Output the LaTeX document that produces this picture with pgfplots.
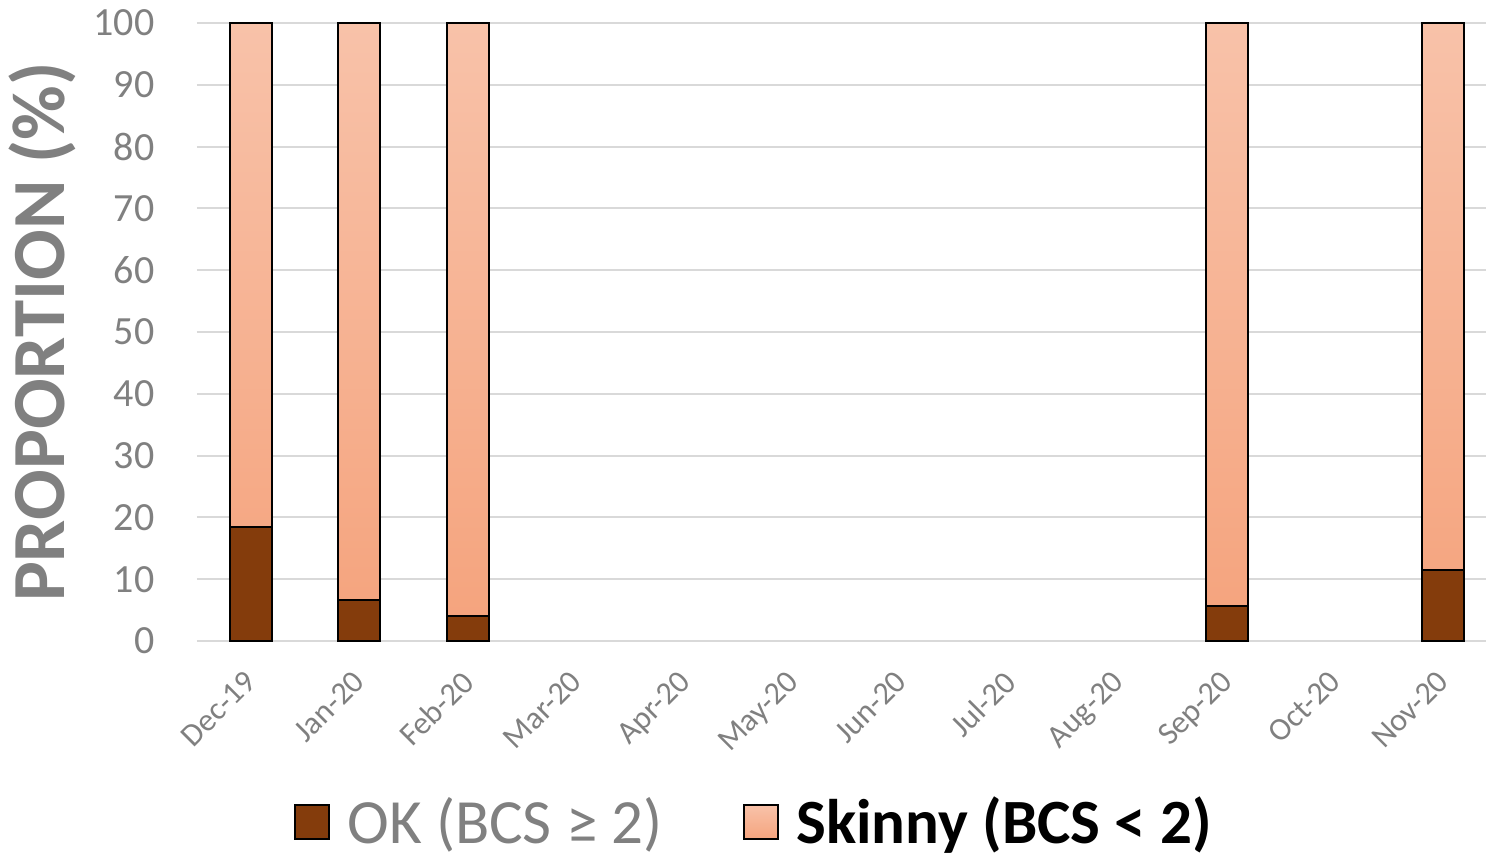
\documentclass[border=0pt]{standalone}
\usepackage{pgfplots}
\pgfplotsset{compat=1.18}
\usepackage{fontspec}
\setmainfont{Carlito}
\definecolor{okc}{HTML}{843C0C}
\definecolor{sktop}{HTML}{F8C2A9}
\definecolor{skbot}{HTML}{F5A47E}
\definecolor{txtgray}{HTML}{808080}
\definecolor{gridc}{HTML}{D9D9D9}
\begin{document}
\begin{tikzpicture}
\path[use as bounding box] (-98.4pt,-105.5pt) rectangle (644.6pt,320.5pt);
\begin{axis}[
  at={(0,0)}, anchor=south west,
  scale only axis,
  width=650.4pt, height=309pt,
  xmin=-0.5, xmax=11.5,
  ymin=0, ymax=100,
  ybar stacked,
  bar width=21pt,
  axis line style={draw=none},
  ymajorgrids,
  grid style={gridc, line width=1pt},
  major tick length=0pt,
  ytick={0,10,...,100},
  xtick={0,...,11},
  xticklabels={Dec-19,Jan-20,Feb-20,Mar-20,Apr-20,May-20,Jun-20,Jul-20,Aug-20,Sep-20,Oct-20,Nov-20},
  yticklabel style={font=\fontsize{20}{22}\selectfont, text=txtgray, anchor=east, inner sep=0pt, xshift=-21pt},
  xticklabel style={font=\fontsize{16}{18}\selectfont, text=txtgray, rotate=45, anchor=north east, inner sep=0pt, yshift=-6.9pt, xshift=-12.4pt},
  /pgf/number format/assume math mode=true,
  ylabel={\textbf{PROPORTION (\%)}},
  ylabel style={font=\fontsize{37.5}{40}\selectfont, text=txtgray, at={(axis description cs:-0.119,0.5)}, anchor=center, inner sep=0pt},
  legend style={at={(0.429,-0.293)}, anchor=center, draw=none, legend columns=2, font=\fontsize{31.5}{35}\selectfont,
    /tikz/every odd column/.append style={column sep=6.5pt},
    /tikz/every even column/.append style={column sep=38pt}, inner sep=0pt},
  legend image code/.code={\draw[#1, draw=black, line width=1.2pt] (0pt,-8.5pt) rectangle (17pt,8.5pt);},
]
\addplot[fill=okc, draw=black, line width=1pt] coordinates {(0,18.4) (1,6.6) (2,4.0) (9,5.7) (11,11.5)};
\addplot[top color=sktop, bottom color=skbot, draw=black, line width=1pt] coordinates {(0,81.6) (1,93.4) (2,96.0) (9,94.3) (11,88.5)};
\legend{\textcolor{txtgray}{OK (BCS ≥ 2)}, \textbf{Skinny (BCS < 2)}}
\end{axis}
\end{tikzpicture}
\end{document}
